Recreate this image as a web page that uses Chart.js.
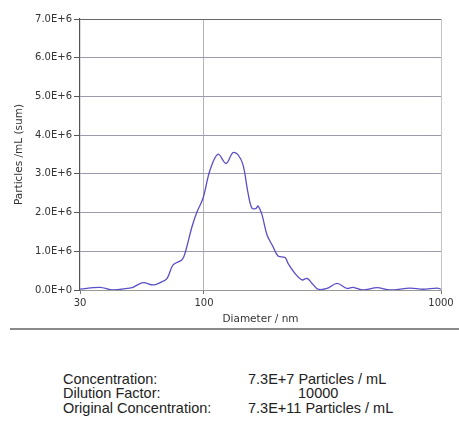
<!DOCTYPE html>
<html>
<head>
<meta charset="utf-8">
<script src="https://cdn.jsdelivr.net/npm/chart.js@4/dist/chart.umd.min.js"></script>
<style>
  html, body { margin: 0; padding: 0; background: #fff; }
  #wrap { position: relative; width: 459px; height: 426px; overflow: hidden; }
  #plotBox { position: absolute; left: 0; top: 0; width: 459px; height: 326px; }
  #sep { position: absolute; left: 10px; top: 328px; width: 449px; height: 0; border-top: 2px solid #8a8a8a; }
  .info { position: absolute; font-family: 'Liberation Sans', Arial, sans-serif; font-size: 14.5px; color: #222; white-space: nowrap; line-height: 15px; }
</style>
</head>
<body>
<div id="wrap">
  <div id="plotBox"><canvas id="plot"></canvas></div>
  <div id="sep"></div>
  <div class="info" style="left:63px; top:372px;">Concentration:</div>
  <div class="info" style="left:63px; top:386px;">Dilution Factor:</div>
  <div class="info" style="left:63px; top:400.5px;">Original Concentration:</div>
  <div class="info" style="left:248px; top:372px;">7.3E+7 Particles / mL</div>
  <div class="info" style="left:298px; top:386px;">10000</div>
  <div class="info" style="left:248px; top:400.5px;">7.3E+11 Particles / mL</div>
</div>
<script>
"use strict";

// diameter (nm)
const diameters = [30, 36.4, 41.3, 47.4, 50.2, 55.3, 61.0, 65.3, 69.9, 74.1, 80.8, 83.2, 89.1, 93.5, 99.1,
    106.1, 114.7, 123.9, 132.7, 139.3, 146.2, 153.5, 159.5, 165.9, 169.1, 175.8, 184.6, 195.6, 205.4,
    219.9, 226.3, 242.2, 259.3, 272.2, 285.8, 302.9, 330.6, 364.3, 401.6, 425.6, 469.1, 537.4, 609.8,
    740.3, 840.4, 962.5, 1000];
// particles / mL (sum)
const particles = [0.02e6, 0.07e6, 0.0e6, 0.04e6, 0.07e6, 0.19e6, 0.13e6, 0.19e6, 0.30e6, 0.65e6, 0.78e6, 0.95e6, 1.64e6, 2.02e6, 2.37e6,
    3.10e6, 3.51e6, 3.27e6, 3.55e6, 3.49e6, 3.23e6, 2.50e6, 2.11e6, 2.11e6, 2.17e6, 1.94e6, 1.42e6, 1.12e6, 0.88e6,
    0.84e6, 0.69e6, 0.43e6, 0.26e6, 0.30e6, 0.17e6, 0.02e6, 0.04e6, 0.17e6, 0.04e6, 0.07e6, 0.0e6, 0.06e6, 0.0e6,
    0.05e6, 0.02e6, 0.05e6, 0.02e6];
const xTickValues = [30, 100, 1000];

const tickFont = { family: "'DejaVu Sans', Verdana, sans-serif", size: 10 };
const titleFont = { family: "'DejaVu Sans', Verdana, sans-serif", size: 10.5 };

document.addEventListener('DOMContentLoaded', function () {
    drawPlot();
});

function drawPlot() {
    const plotCanvas = document.getElementById('plot');
    const points = diameters.map((d, i) => ({ x: d, y: particles[i] }));

    new Chart(plotCanvas, {
        type: 'line',
        data: {
            datasets: [{
                label: 'Particles',
                data: points,
                borderColor: '#5a4fc6',
                borderWidth: 1.3,
                pointRadius: 0,
                tension: 0.35,
                fill: false
            }]
        },
        options: {
            responsive: true,
            maintainAspectRatio: false,
            animation: false,
            layout: { padding: { top: 19, right: 18, left: 0, bottom: 0 } },
            plugins: { legend: { display: false }, tooltip: { enabled: false } },
            scales: {
                x: {
                    type: 'logarithmic',
                    min: 30,
                    max: 1000,
                    afterBuildTicks: (scale) => {
                        scale.ticks = xTickValues.map(v => ({ value: v }));
                    },
                    afterFit: (scale) => { scale.height = 36; },
                    ticks: {
                        font: tickFont,
                        color: '#333',
                        padding: 3,
                        maxRotation: 0,
                        autoSkip: false,
                        callback: (v) => String(v)
                    },
                    grid: {
                        color: (ctx) => (ctx.tick && ctx.tick.value === 100) ? '#b4b4b4'
                            : (ctx.tick && ctx.tick.value === 1000) ? '#c4c4c4' : 'rgba(0,0,0,0)',
                        tickColor: '#777',
                        tickLength: 4,
                        lineWidth: 1
                    },
                    border: { display: true, color: '#9a9a9a', width: 1 },
                    title: {
                        display: true,
                        text: 'Diameter / nm',
                        font: titleFont,
                        color: '#333',
                        padding: { top: 0, bottom: 0 }
                    }
                },
                y: {
                    min: 0,
                    max: 7e6,
                    afterFit: (scale) => { scale.width = 80; },
                    ticks: {
                        stepSize: 1e6,
                        font: tickFont,
                        color: '#333',
                        padding: 2,
                        callback: (v) => Number(v).toExponential(1).toUpperCase()
                    },
                    grid: {
                        color: (ctx) => (ctx.tick && ctx.tick.value === 7e6) ? '#666' : '#9a9aac',
                        tickColor: '#555',
                        tickLength: 6,
                        lineWidth: 1
                    },
                    border: { display: true, color: '#555', width: 1.2 },
                    title: {
                        display: true,
                        text: 'Particles /mL (sum)',
                        font: titleFont,
                        color: '#333',
                        padding: { top: 13, bottom: 0 }
                    }
                }
            }
        }
    });
}
</script>
</body>
</html>
